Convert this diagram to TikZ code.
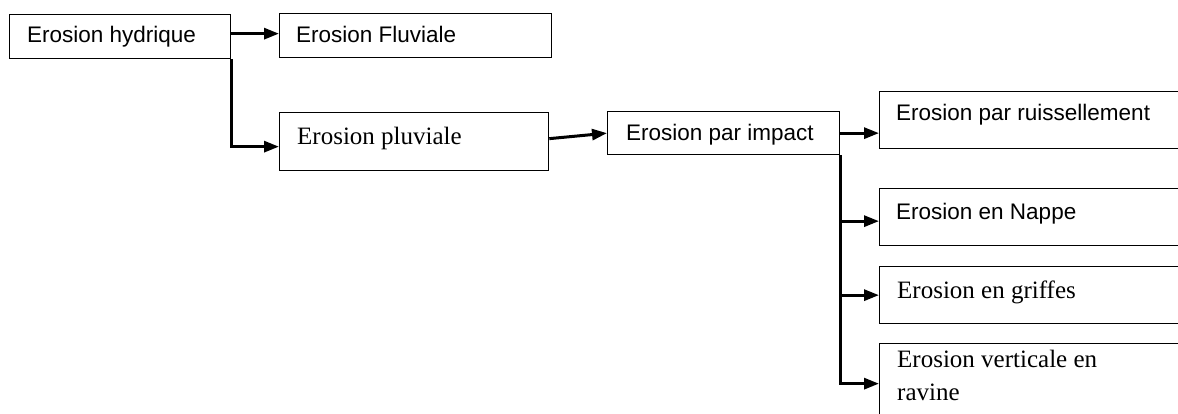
\documentclass[tikz,border=0pt]{standalone}
\usepackage{fontspec}
\setmainfont{Liberation Serif}
\newfontfamily\arialf{Liberation Sans}
\usetikzlibrary{arrows.meta}
\begin{document}
\begin{tikzpicture}[x=1pt,y=-1pt,
 box/.style={draw, line width=1.3pt, inner sep=0pt, anchor=north west},
 sans/.style={font=\arialf\fontsize{22.5}{27}\selectfont, anchor=base west, inner sep=0pt},
 serif/.style={font=\fontsize{25}{33}\selectfont, anchor=base west, inner sep=0pt},
 conn/.style={line width=3pt, -{Triangle[length=15pt,width=11pt]}},
]
\useasboundingbox (0,0) rectangle (1178,414);
\clip (0,0) rectangle (1178,414);
\fill[white] (0,0) rectangle (1178,414);
% boxes
\node[box, minimum width=221pt, minimum height=44pt] (hyd) at (9,14) {};
\node[box, minimum width=272pt, minimum height=44pt] (fluv) at (279,13) {};
\node[box, minimum width=269pt, minimum height=58pt] (pluv) at (279,112) {};
\node[box, minimum width=232pt, minimum height=43pt] (imp) at (607,111) {};
\node[box, minimum width=310pt, minimum height=57pt] (ruis) at (879,91) {};
\node[box, minimum width=310pt, minimum height=57pt] (nappe) at (879,188) {};
\node[box, minimum width=310pt, minimum height=57pt] (griff) at (879,266) {};
\node[box, minimum width=310pt, minimum height=80pt] (vert) at (879,343) {};
% texts
\node[sans] (thyd) at (27,43) {Erosion hydrique};
\node[sans] (tfluv) at (296,43) {Erosion Fluviale};
\node[serif] (tpluv) at (297,145) {Erosion pluviale};
\node[sans] (timp) at (626,141) {Erosion par impact};
\node[sans] (truis) at (896,121) {Erosion par ruissellement};
\node[sans] (tnappe) at (896,220) {Erosion en Nappe};
\node[serif] (tgriff) at (897,298) {Erosion en griffes};
\node[serif] (tvert) at (897,367) {Erosion verticale en};
\node[serif] (travine) at (897,400) {ravine};
% connectors
\draw[conn] ([yshift=3pt]hyd.east) -- ([yshift=3pt]hyd.east -| fluv.west);
\draw[conn] (hyd.south east) |- ([yshift=-5pt]pluv.west);
\draw[conn] ([yshift=3pt]pluv.east) -- (imp.west);
\draw[conn] (imp.east) -- (imp.east -| ruis.west);
\draw[conn] (imp.south east) |- ([yshift=-4pt]nappe.west);
\draw[conn] (imp.south east) |- (griff.west);
\draw[conn] (imp.south east) |- (vert.west);
\end{tikzpicture}
\end{document}
